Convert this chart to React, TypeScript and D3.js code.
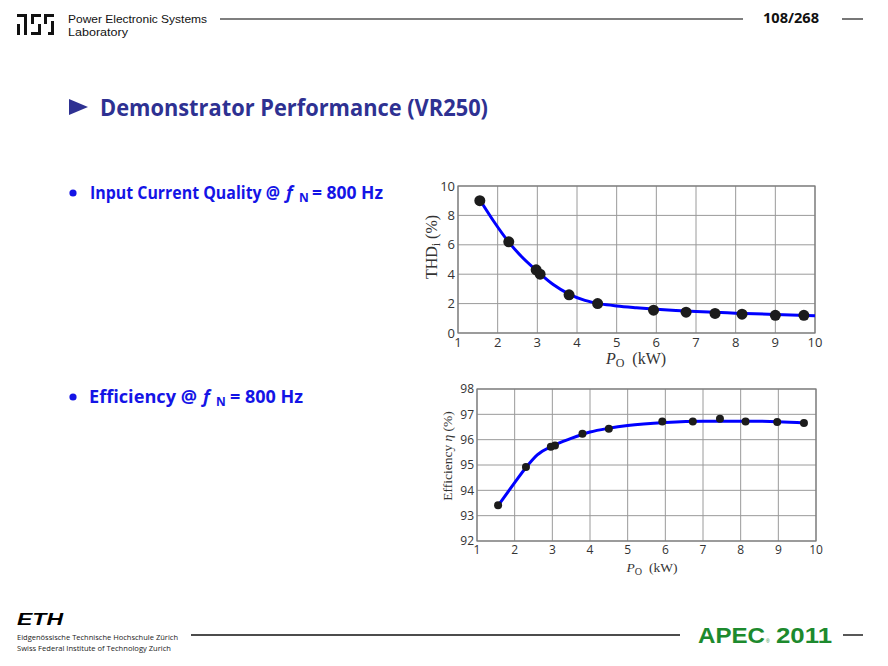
import * as d3 from "d3";

// measured points, THD (top chart)
const thdPowerKW = [1.55, 2.28, 2.97, 3.07, 3.8, 4.52, 5.93, 6.75, 7.48, 8.16, 9.0, 9.72];
const thdPct = [9.0, 6.2, 4.3, 4.0, 2.6, 2.0, 1.55, 1.42, 1.33, 1.28, 1.2, 1.2];
// fitted curve, THD
const thdFitKW = [1.6, 1.9, 2.28, 2.6, 3.0, 3.4, 3.8, 4.2, 4.6, 5, 5.5, 6, 7, 8, 9, 10];
const thdFitPct = [8.85, 7.6, 6.18, 5.2, 4.2, 3.3, 2.65, 2.22, 1.98, 1.84, 1.72, 1.62, 1.46, 1.35, 1.26, 1.18];

// measured points, efficiency (bottom chart)
const effPowerKW = [1.56, 2.3, 2.96, 3.07, 3.8, 4.5, 5.92, 6.73, 7.45, 8.13, 8.97, 9.68];
const effPct = [93.41, 94.92, 95.72, 95.77, 96.23, 96.43, 96.72, 96.72, 96.83, 96.72, 96.7, 96.66];
// fitted curve, efficiency
const effFitKW = [1.56, 2, 2.3, 2.6, 3, 3.5, 4, 4.5, 5, 6, 7, 8, 9, 9.72];
const effFitPct = [93.4, 94.3, 94.9, 95.4, 95.75, 96.05, 96.3, 96.45, 96.56, 96.68, 96.73, 96.73, 96.71, 96.66];

const xTicks = [1, 2, 3, 4, 5, 6, 7, 8, 9, 10];
const thdTicks = [0, 2, 4, 6, 8, 10];
const effTicks = [92, 93, 94, 95, 96, 97, 98];

const SANS = "'Open Sans', 'Noto Sans', sans-serif";
const LIB = "'Liberation Sans', sans-serif";
const SERIF = "'Liberation Serif', 'DejaVu Serif', serif";
const TITLE_BLUE = "#2e3192";
const BULLET_BLUE = "#1414e6";

type ChartProps = {
  x0: number; x1: number; y0: number; y1: number;
  yDomain: [number, number];
  yTicks: number[];
  px: number[]; py: number[];
  fx: number[]; fy: number[];
  dotR: number;
  tickSize: number;
  yLabel: React.ReactNode;
  yLabelPos: [number, number];
  xLabelPos: [number, number];
  labelSize: number;
};

function Chart(p: ChartProps) {
  const x = d3.scaleLinear().domain([1, 10]).range([p.x0, p.x1]);
  const y = d3.scaleLinear().domain(p.yDomain).range([p.y1, p.y0]);
  const fit = d3.line<number>()
    .x((d) => x(d))
    .y((_, i) => y(p.fy[i]))
    .curve(d3.curveMonotoneX);

  return (
    <g>
      {/* grid */}
      {xTicks.map((t) => (
        <line key={"gx" + t} x1={x(t)} x2={x(t)} y1={p.y0} y2={p.y1} stroke="#9a9a9a" strokeWidth={1} />
      ))}
      {p.yTicks.map((t) => (
        <line key={"gy" + t} x1={p.x0} x2={p.x1} y1={y(t)} y2={y(t)} stroke="#9a9a9a" strokeWidth={1} />
      ))}
      <rect x={p.x0} y={p.y0} width={p.x1 - p.x0} height={p.y1 - p.y0} fill="none" stroke="#7a7a7a" strokeWidth={1.2} />

      {/* tick labels */}
      {xTicks.map((t) => (
        <text key={"tx" + t} x={x(t)} y={p.y1 + p.tickSize + 1} textAnchor="middle"
          fontFamily={SANS} fontSize={p.tickSize} fill="#333">{t}</text>
      ))}
      {p.yTicks.map((t) => (
        <text key={"ty" + t} x={p.x0 - 3} y={y(t) + p.tickSize * 0.36} textAnchor="end"
          fontFamily={SANS} fontSize={p.tickSize} fill="#333">{t}</text>
      ))}

      {/* fitted curve and measured points */}
      <path d={fit(p.fx) || ""} fill="none" stroke="#0000ff" strokeWidth={3} />
      {p.px.map((v, i) => (
        <circle key={"pt" + i} cx={x(v)} cy={y(p.py[i])} r={p.dotR} fill="#1c1c1c" />
      ))}

      {/* axis labels */}
      <text transform={`translate(${p.yLabelPos[0]},${p.yLabelPos[1]}) rotate(-90)`} textAnchor="middle"
        fontFamily={SERIF} fontSize={p.labelSize} fill="#333">{p.yLabel}</text>
      <text x={p.xLabelPos[0]} y={p.xLabelPos[1]} textAnchor="middle" fontFamily={SERIF}
        fontSize={p.labelSize} fill="#333">
        <tspan fontStyle="italic">P</tspan>
        <tspan fontSize={p.labelSize * 0.75} dy={3}>O</tspan>
        <tspan dy={-3}>{"\u00a0\u00a0(kW)"}</tspan>
      </text>
    </g>
  );
}

function PesLogo() {
  // rough block glyphs of the lab logo
  const r = (x: number, y: number, w: number, h: number, k: string) => (
    <rect key={k} x={x} y={y} width={w} height={h} fill="#111" />
  );
  return (
    <g>
      {r(17, 14, 10, 3, "a")}{r(24, 14, 3, 21, "b")}{r(17, 24, 3, 11, "c")}
      {r(31, 14, 10, 3, "d")}{r(31, 14, 3, 10, "e")}{r(31, 32, 10, 3, "f")}{r(38, 24, 3, 11, "g")}
      {r(44, 14, 10, 3, "h")}{r(44, 14, 3, 10, "i")}{r(48, 32, 6, 3, "k")}{r(51, 21, 3, 14, "l")}
    </g>
  );
}

// one bullet line: lead text, italic f, subscript N, tail text
function Bullet(props: { cy: number; base: number; lead: string; leadX: [number, number]; fX: number; nX: number; tailX: [number, number] }) {
  const common = { fontFamily: SANS, fontWeight: "bold" as const, fill: BULLET_BLUE };
  return (
    <g>
      <circle cx={73} cy={props.cy} r={3.6} fill={BULLET_BLUE} />
      <text x={props.leadX[0]} y={props.base} fontSize={18} {...common}
        textLength={props.leadX[1] - props.leadX[0]} lengthAdjust="spacingAndGlyphs">{props.lead}</text>
      <text x={props.fX} y={props.base} fontSize={18} fontStyle="italic" {...common}>f</text>
      <text x={props.nX} y={props.base + 3} fontSize={12} {...common}>N</text>
      <text x={props.tailX[0]} y={props.base} fontSize={18} {...common}
        textLength={props.tailX[1] - props.tailX[0]} lengthAdjust="spacingAndGlyphs">= 800 Hz</text>
    </g>
  );
}

export default function App() {
  return (
    <svg width={888} height={666} style={{ position: "absolute", left: 0, top: 0, background: "#fff" }}>
      <rect width={888} height={666} fill="#fff" />

      {/* header */}
      <PesLogo />
      <text x={68} y={23} fontFamily={LIB} fontSize={11.5} fill="#111" textLength={139} lengthAdjust="spacingAndGlyphs">Power Electronic Systems</text>
      <text x={68} y={36} fontFamily={LIB} fontSize={11.5} fill="#111" textLength={60} lengthAdjust="spacingAndGlyphs">Laboratory</text>
      <line x1={220} x2={743} y1={19} y2={19} stroke="#555" strokeWidth={1.6} />
      <text x={763} y={23} fontFamily={SANS} fontSize={14} fontWeight="bold" fill="#111" textLength={56} lengthAdjust="spacingAndGlyphs">108/268</text>
      <line x1={842} x2={863} y1={19} y2={19} stroke="#555" strokeWidth={1.6} />

      {/* title */}
      <path d="M69,99 L88,107 L69,115 Z" fill={TITLE_BLUE} />
      <text x={100} y={116} fontFamily={SANS} fontSize={23} fontWeight="bold" fill={TITLE_BLUE} textLength={388} lengthAdjust="spacingAndGlyphs">Demonstrator Performance (VR250)</text>

      {/* bullets */}
      <Bullet cy={193} base={199} lead="Input Current Quality @" leadX={[90, 280]} fX={286} nX={299} tailX={[312, 383]} />
      <Bullet cy={397} base={403} lead="Efficiency @" leadX={[89, 197]} fX={203} nX={216} tailX={[230, 303]} />

      <Chart
        x0={458} x1={815} y0={186} y1={333}
        yDomain={[0, 10]} yTicks={thdTicks}
        px={thdPowerKW} py={thdPct} fx={thdFitKW} fy={thdFitPct}
        dotR={5.5} tickSize={13}
        yLabel={<>THD<tspan fontSize={12} dy={3}>i</tspan><tspan dy={-3}>{"\u00a0(%)"}</tspan></>}
        yLabelPos={[437, 247]} xLabelPos={[636, 364]} labelSize={16}
      />
      <Chart
        x0={477} x1={816} y0={389} y1={541}
        yDomain={[92, 98]} yTicks={effTicks}
        px={effPowerKW} py={effPct} fx={effFitKW} fy={effFitPct}
        dotR={4} tickSize={12}
        yLabel={<>Efficiency <tspan fontStyle="italic">η</tspan>{"\u00a0(%)"}</>}
        yLabelPos={[452, 456]} xLabelPos={[652, 572]} labelSize={13.5}
      />

      {/* footer */}
      <text x={17} y={625} fontFamily={LIB} fontSize={17} fontWeight={900} fontStyle="italic" fill="#000" textLength={46} lengthAdjust="spacingAndGlyphs">ETH</text>
      <text x={17} y={640} fontFamily={SANS} fontSize={8} fill="#222" textLength={161} lengthAdjust="spacingAndGlyphs">Eidgenössische Technische Hochschule Zürich</text>
      <text x={17} y={651} fontFamily={SANS} fontSize={8} fill="#222" textLength={154} lengthAdjust="spacingAndGlyphs">Swiss Federal Institute of Technology Zurich</text>
      <line x1={191} x2={680} y1={635} y2={635} stroke="#111" strokeWidth={1.4} />
      <text x={698} y={643} fontFamily={LIB} fontSize={22} fontWeight="bold" fill="#1d8a2e" textLength={67} lengthAdjust="spacingAndGlyphs">APEC</text>
      <text x={766} y={643} fontFamily={LIB} fontSize={5} fill="#1d8a2e">®</text>
      <text x={776} y={643} fontFamily={LIB} fontSize={22} fontWeight="bold" fill="#1d8a2e" textLength={56} lengthAdjust="spacingAndGlyphs">2011</text>
      <line x1={843} x2={863} y1={635} y2={635} stroke="#111" strokeWidth={1.4} />
    </svg>
  );
}
